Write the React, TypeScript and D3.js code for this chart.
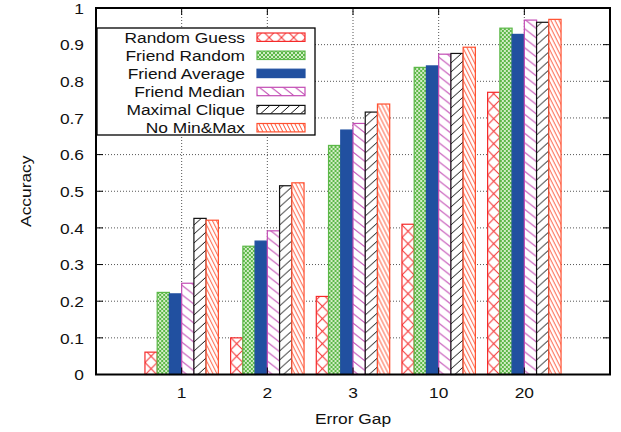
import React from 'react';
import * as d3 from 'd3';

// categories and values
const gaps = ['1', '2', '3', '10', '20'];
const seriesNames = ['Random Guess', 'Friend Random', 'Friend Average', 'Friend Median', 'Maximal Clique', 'No Min&Max'];
const randomGuess = [0.061, 0.10, 0.213, 0.41, 0.77];
const friendRandom = [0.224, 0.35, 0.625, 0.838, 0.945];
const friendAverage = [0.22, 0.364, 0.667, 0.842, 0.928];
const friendMedian = [0.249, 0.392, 0.685, 0.874, 0.967];
const maximalClique = [0.426, 0.515, 0.716, 0.876, 0.961];
const noMinMax = [0.421, 0.523, 0.738, 0.893, 0.969];
const yTicks = [0, 0.1, 0.2, 0.3, 0.4, 0.5, 0.6, 0.7, 0.8, 0.9, 1];

const seriesValues = [randomGuess, friendRandom, friendAverage, friendMedian, maximalClique, noMinMax];
const strokes = ['#f52a2a', '#5cb848', '#2150a0', '#c24cb4', '#111111', '#ff5030'];
const fills = ['url(#pRed)', 'url(#pGreen)', '#2150a0', 'url(#pMag)', 'url(#pBlack)', 'url(#pOrange)'];

const FONT = '"Liberation Sans", Arial, sans-serif';

// text stretched a bit horizontally, like the gnuplot output
const Label = ({ x, y, anchor = 'middle', rotate = 0, children }: any) => (
  <text
    transform={`translate(${x},${y}) rotate(${rotate}) scale(1.12,1)`}
    textAnchor={anchor}
    dominantBaseline="central"
    fontFamily={FONT}
    fontSize={15.5}
    fill="#111"
  >
    {children}
  </text>
);

export default function App() {
  const left = 96, right = 610, top = 8, bottom = 374.5;

  const x = d3.scaleLinear().domain([-1, 5]).range([left, right]);
  const y = d3.scaleLinear().domain([0, 1]).range([bottom, top]);
  // position of each series inside a cluster, in x units
  const inner = d3.scaleBand<string>().domain(seriesNames).range([-3 / 7, 3 / 7]);
  const bw = x(inner.bandwidth()) - x(0);

  const legendRowY = (i: number) => 37 + i * 18.1;

  return (
    <svg width={621} height={432} style={{ position: 'absolute', left: 0, top: 0, background: '#fff' }}>
      <defs>
        <pattern id="pRed" patternUnits="userSpaceOnUse" width={bw} height={12.5}>
          <rect width={bw} height={12.5} fill="#fff" />
          <path d={`M0,0L${bw},12.5M${bw},0L0,12.5`} stroke="#f52a2a" strokeWidth={1} />
        </pattern>
        <pattern id="pGreen" patternUnits="userSpaceOnUse" width={4} height={4}>
          <rect width={4} height={4} fill="#d2ecc6" />
          <rect width={2} height={2} fill="#5cb848" />
          <rect x={2} y={2} width={2} height={2} fill="#5cb848" />
        </pattern>
        <pattern id="pMag" patternUnits="userSpaceOnUse" width={12} height={9.5}>
          <rect width={12} height={9.5} fill="#fff" />
          <path d="M-12,-9.5L24,19M-12,0L12,19M0,-9.5L24,9.5" stroke="#c24cb4" strokeWidth={1} />
        </pattern>
        <pattern id="pBlack" patternUnits="userSpaceOnUse" width={10} height={9}>
          <rect width={10} height={9} fill="#fff" />
          <path d="M-10,18L20,-9M-10,9L10,-9M0,18L20,0" stroke="#111" strokeWidth={1} />
        </pattern>
        <pattern id="pOrange" patternUnits="userSpaceOnUse" width={4} height={8}>
          <rect width={4} height={8} fill="#fff" />
          <path d="M-4,-8L8,16M-4,0L4,16M0,-8L8,8" stroke="#ff5030" strokeWidth={1} />
        </pattern>
      </defs>

      {/* dotted grid */}
      <g stroke="#555" strokeWidth={1} strokeDasharray="1 2">
        {yTicks.slice(1, -1).map((t) => (
          <line key={`gy${t}`} x1={left} x2={right} y1={y(t)} y2={y(t)} />
        ))}
        {gaps.map((g, i) => (
          <line key={`gx${g}`} x1={x(i)} x2={x(i)} y1={top} y2={bottom} />
        ))}
      </g>

      {/* bars */}
      {seriesNames.map((name, s) =>
        seriesValues[s].map((v, i) => {
          const bx = x(i + (inner(name) as number));
          return (
            <g key={`${name}-${i}`} transform={`translate(${bx},0)`}>
              <rect
                x={0}
                y={y(v)}
                width={bw}
                height={bottom - y(v)}
                fill={fills[s]}
                stroke={strokes[s]}
                strokeWidth={1.2}
              />
            </g>
          );
        })
      )}

      {/* ticks */}
      <g stroke="#000" strokeWidth={1}>
        {yTicks.map((t) => (
          <g key={`ty${t}`}>
            <line x1={left} x2={left + 7} y1={y(t)} y2={y(t)} />
            <line x1={right} x2={right - 7} y1={y(t)} y2={y(t)} />
          </g>
        ))}
        {gaps.map((g, i) => (
          <g key={`tx${g}`}>
            <line x1={x(i)} x2={x(i)} y1={bottom} y2={bottom - 7} />
            <line x1={x(i)} x2={x(i)} y1={top} y2={top + 7} />
          </g>
        ))}
      </g>

      {/* frame */}
      <rect x={left} y={top} width={right - left} height={bottom - top} fill="none" stroke="#000" strokeWidth={2} />

      {/* legend */}
      <rect x={97} y={28} width={218} height={107} fill="#fff" stroke="#000" strokeWidth={1.3} />
      {seriesNames.map((name, s) => (
        <g key={`lg${name}`}>
          <Label x={245} y={legendRowY(s)} anchor="end">{name}</Label>
          <g transform={`translate(257,0)`}>
            <rect
              x={0}
              y={legendRowY(s) - 4}
              width={48}
              height={8.4}
              fill={fills[s]}
              stroke={strokes[s]}
              strokeWidth={1.2}
            />
          </g>
        </g>
      ))}

      {/* axis labels */}
      {yTicks.map((t) => (
        <Label key={`ly${t}`} x={84} y={y(t)} anchor="end">{d3.format('~g')(t)}</Label>
      ))}
      {gaps.map((g, i) => (
        <Label key={`lx${g}`} x={x(i)} y={392}>{g}</Label>
      ))}
      <Label x={(left + right) / 2} y={418}>Error Gap</Label>
      <Label x={25} y={(top + bottom) / 2} rotate={-90}>Accuracy</Label>
    </svg>
  );
}
